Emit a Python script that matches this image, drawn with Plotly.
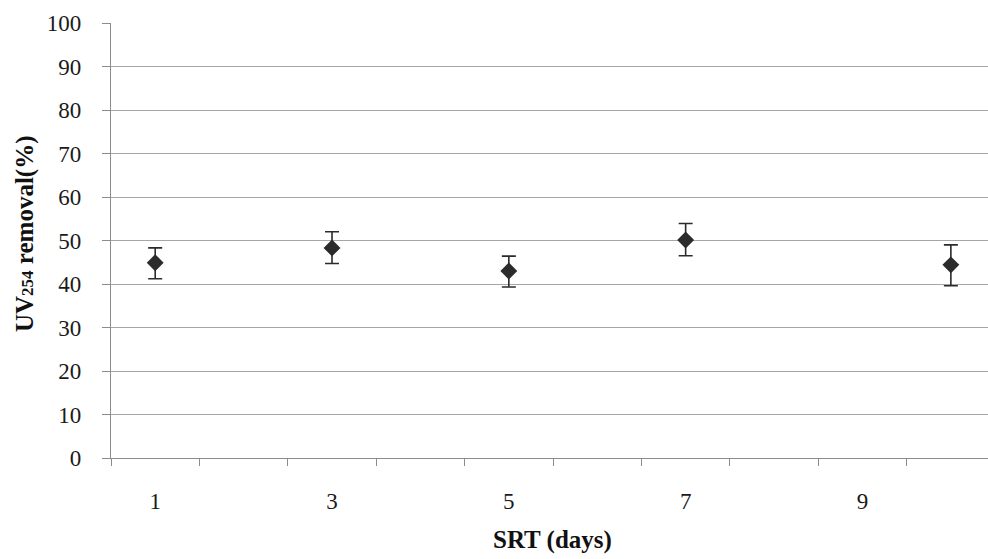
import plotly.graph_objects as go

# Data
srt_days = [1, 3, 5, 7, 10]
uv254_removal = [44.9, 48.3, 43.0, 50.1, 44.4]
err_plus = [3.4, 3.7, 3.4, 3.8, 4.6]
err_minus = [3.7, 3.6, 3.7, 3.6, 4.8]
x_tick_labels = ["1", "3", "5", "7", "9"]
x_tick_vals = [1, 3, 5, 7, 9]
category_edges = [0.5, 1.5, 2.5, 3.5, 4.5, 5.5, 6.5, 7.5, 8.5, 9.5, 10.5]

font_family = "Liberation Serif, Times New Roman, serif"

fig = go.Figure()
fig.add_trace(go.Scatter(
    x=srt_days, y=uv254_removal, mode="markers",
    marker=dict(symbol="diamond", size=13, color="#2b2b2b"),
    error_y=dict(type="data", symmetric=False, array=err_plus, arrayminus=err_minus,
                 color="#2b2b2b", thickness=1.6, width=7),
    showlegend=False,
))

fig.update_layout(
    width=988, height=559,
    margin=dict(l=111, r=0, t=23, b=101),
    paper_bgcolor="white", plot_bgcolor="white",
    font=dict(family=font_family, color="#1a1a1a", size=20),
    xaxis=dict(
        range=[0.5, 10.42], tickmode="array", tickvals=x_tick_vals, ticktext=x_tick_labels,
        ticks="outside", ticklen=7, tickcolor="rgba(0,0,0,0)",
        ticklabelstandoff=15,
        showgrid=False, zeroline=False,
        showline=True, linecolor="#8c8c8c", linewidth=1.2,
        tickfont=dict(size=23),
        minor=dict(tickmode="array", tickvals=category_edges, ticks="outside",
                   ticklen=7, tickcolor="#8c8c8c", tickwidth=1.2, showgrid=False),
    ),
    yaxis=dict(
        range=[0, 100], dtick=10, tick0=0,
        ticks="outside", ticklen=8, tickcolor="#8c8c8c", tickwidth=1.2,
        ticklabelstandoff=16,
        showgrid=True, gridcolor="#a6a6a6", gridwidth=1.2,
        zeroline=False,
        showline=True, linecolor="#8c8c8c", linewidth=1.2,
        tickfont=dict(size=23),
    ),
    annotations=[
        dict(text="<b>SRT (days)</b>", xref="paper", yref="paper",
             x=0.503, y=-0.188, xanchor="center", yanchor="middle",
             showarrow=False, font=dict(size=25, family=font_family, color="#111")),
        dict(text="<b>UV<span style='font-size:17px'>254</span> removal(%)</b>",
             xref="paper", yref="paper",
             x=-0.098, y=0.515, xanchor="center", yanchor="middle", textangle=-90,
             showarrow=False, font=dict(size=25, family=font_family, color="#111")),
    ],
)

fig.write_html(
    "out.html",
    config={"displayModeBar": False},
    post_script="document.body.style.margin='0';document.body.style.overflow='hidden';",
)
